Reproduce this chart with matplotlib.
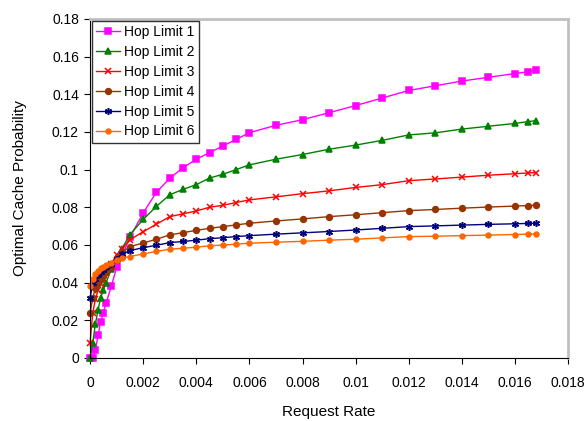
import matplotlib
matplotlib.use("Agg")
import matplotlib.pyplot as plt

plt.rcParams["font.family"] = ["Liberation Sans", "DejaVu Sans"]

# Request rate values (shared by all series)
request_rate = [0, 0.0001, 0.0002, 0.0003, 0.0004, 0.0005, 0.0006, 0.0008, 0.001, 0.0012,
                0.0015, 0.002, 0.0025, 0.003, 0.0035, 0.004, 0.0045, 0.005, 0.0055, 0.006,
                0.007, 0.008, 0.009, 0.010, 0.011, 0.012, 0.013, 0.014, 0.015, 0.016,
                0.0165, 0.0168]

hop1 = [0, 0, 0.004, 0.012, 0.019, 0.024, 0.029, 0.038, 0.048, 0.054,
        0.064, 0.077, 0.088, 0.0954, 0.101, 0.1055, 0.109, 0.1125, 0.116, 0.1196,
        0.1235, 0.1265, 0.1302, 0.134, 0.138, 0.142, 0.1445, 0.147, 0.149, 0.151,
        0.152, 0.153]
hop2 = [0, 0.008, 0.018, 0.0255, 0.032, 0.036, 0.040, 0.047, 0.052, 0.058,
        0.0655, 0.0735, 0.0805, 0.0866, 0.0895, 0.092, 0.0955, 0.0975, 0.100, 0.1025,
        0.1055, 0.108, 0.1108, 0.113, 0.1155, 0.1184, 0.1195, 0.1215, 0.123, 0.1245,
        0.1255, 0.126]
hop3 = [0.008, 0.024, 0.031, 0.036, 0.039, 0.042, 0.045, 0.050, 0.0547, 0.058,
        0.0627, 0.067, 0.071, 0.075, 0.0765, 0.078, 0.080, 0.081, 0.0825, 0.0839,
        0.0855, 0.0872, 0.0887, 0.0905, 0.092, 0.0941, 0.095, 0.096, 0.097, 0.0978,
        0.0982, 0.0984]
hop4 = [0.0237, 0.032, 0.037, 0.040, 0.042, 0.0435, 0.0455, 0.048, 0.053, 0.056,
        0.0591, 0.061, 0.063, 0.0653, 0.0665, 0.0677, 0.0688, 0.0697, 0.0706, 0.0715,
        0.0727, 0.0738, 0.075, 0.076, 0.0771, 0.0782, 0.0788, 0.0795, 0.0801, 0.0806,
        0.0809, 0.0811]
hop5 = [0.0317, 0.0397, 0.042, 0.044, 0.0455, 0.0467, 0.048, 0.050, 0.0525, 0.055,
        0.057, 0.0585, 0.0598, 0.0612, 0.0618, 0.0625, 0.0633, 0.0638, 0.0644, 0.0649,
        0.0657, 0.0664, 0.0671, 0.0679, 0.0688, 0.0697, 0.0701, 0.0705, 0.0709, 0.0712,
        0.0714, 0.0715]
hop6 = [0.0379, 0.042, 0.0445, 0.046, 0.0475, 0.0485, 0.0492, 0.0505, 0.052, 0.053,
        0.0538, 0.0552, 0.0565, 0.0577, 0.0582, 0.0588, 0.0595, 0.0599, 0.0604, 0.0609,
        0.0614, 0.0619, 0.0625, 0.063, 0.0637, 0.0644, 0.0646, 0.0649, 0.0652, 0.0655,
        0.0657, 0.0658]

labels = ["Hop Limit 1", "Hop Limit 2", "Hop Limit 3", "Hop Limit 4", "Hop Limit 5", "Hop Limit 6"]
colors = ["#FF00FF", "#008000", "#FF0000", "#993300", "#000080", "#FF6600"]
markers = ["s", "^", "x", "o", (6, 2, 0), "o"]
sizes = [4.2, 4.5, 4.2, 4.2, 5, 3.5]

fig = plt.figure(figsize=(5.85, 4.21), dpi=100)
ax = fig.add_axes([0.154, 0.150, 0.817, 0.805])

series = [hop1, hop2, hop3, hop4, hop5, hop6]
for ys, lab, c, m, s in zip(series, labels, colors, markers, sizes):
    ax.plot(request_rate, ys, color=c, marker=m, markersize=s, linewidth=1,
            markeredgewidth=1.1, label=lab, clip_on=False)

ax.set_xlim(0, 0.018)
ax.set_ylim(0, 0.18)
ax.set_xticks([i * 0.002 for i in range(10)])
ax.set_xticklabels(["0", "0.002", "0.004", "0.006", "0.008", "0.01", "0.012", "0.014", "0.016", "0.018"])
ax.set_yticks([i * 0.02 for i in range(10)])
ax.set_yticklabels(["0", "0.02", "0.04", "0.06", "0.08", "0.1", "0.12", "0.14", "0.16", "0.18"])
ax.tick_params(direction="out", length=4, labelsize=10, pad=4)
ax.tick_params(axis="x", pad=9)

ax.spines["top"].set_color("#c0c0c0")
ax.spines["right"].set_color("#c0c0c0")
ax.spines["top"].set_linewidth(2)
ax.spines["right"].set_linewidth(2)

ax.set_xlabel("Request Rate", fontsize=11, labelpad=11)
ax.set_ylabel("Optimal Cache Probability", fontsize=11, labelpad=18)

leg = ax.legend(loc="upper left", fontsize=10, frameon=True, fancybox=False,
                edgecolor="black", handlelength=1.7, handletextpad=0.3,
                borderaxespad=0.15, labelspacing=0.42, borderpad=0.3)
leg.get_frame().set_linewidth(1)

fig.savefig("out.png", dpi=100)
